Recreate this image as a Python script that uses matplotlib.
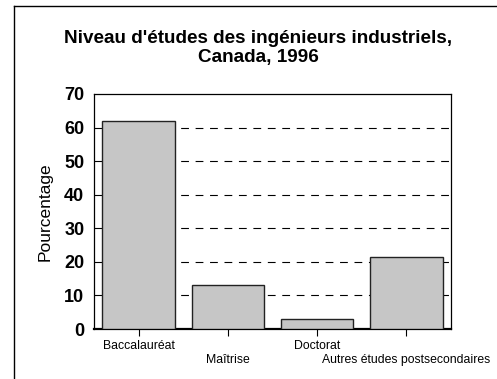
import numpy as np
import matplotlib.pyplot as plt
from matplotlib.lines import Line2D

categories = ['Baccalauréat', 'Maîtrise', 'Doctorat', 'Autres études postsecondaires']
values = [62, 13, 3, 21.5]
yticks = [0, 10, 20, 30, 40, 50, 60, 70]

fig = plt.figure(figsize=(4.97, 3.79), dpi=100)
ax = fig.add_axes([94 / 497, 1 - 329 / 379, 357 / 497, 235 / 379])

x = np.arange(len(categories))
ax.bar(x, values, width=0.81, color='#c6c6c6', edgecolor='#222222',
       linewidth=1.0, zorder=3)

ax.set_xlim(-0.5, 3.5)
ax.set_ylim(0, 70)
ax.set_yticks(yticks)
ax.set_yticklabels([str(t) for t in yticks], fontweight='bold', fontsize=13,
                   family='Liberation Sans')
ax.tick_params(axis='y', length=0, pad=7)

ax.set_xticks(x)
ax.set_xticklabels(categories, fontsize=8.8, family='Liberation Sans')
ax.tick_params(axis='x', length=5, direction='out', width=0.8, pad=3)
# alternate label rows so the long names don't collide
for i, tick in enumerate(ax.xaxis.get_major_ticks()):
    if i % 2 == 1:
        tick.set_pad(13)

for yv in yticks[1:-1]:
    ax.axhline(yv, color='black', linewidth=0.8, dashes=(7, 6), zorder=1)

for side in ['left', 'top', 'right']:
    ax.spines[side].set_linewidth(0.9)
ax.spines['bottom'].set_linewidth(1.6)

ax.set_ylabel('Pourcentage', fontsize=12.5, family='Liberation Sans', labelpad=8)

fig.text(258 / 497, 1 - 48 / 379, "Niveau d'études des ingénieurs industriels,\nCanada, 1996",
         ha='center', va='center', fontsize=13.6, fontweight='bold',
         family='Liberation Sans', linespacing=1.2)

# outer frame lines
fig.add_artist(Line2D([14 / 497, 14 / 497], [0, 1 - 6 / 379], color='black', linewidth=1.0))
fig.add_artist(Line2D([14 / 497, 1], [1 - 6 / 379, 1 - 6 / 379], color='black', linewidth=1.0))

fig.savefig('out.png', dpi=100)
